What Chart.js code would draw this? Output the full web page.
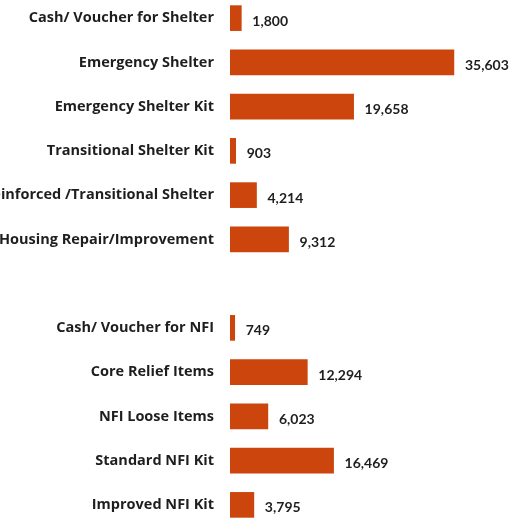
<!DOCTYPE html>
<html lang="en">
  <head>
    <meta charset="UTF-8" />
    <title>Shelter and NFI</title>
    <script src="https://cdn.jsdelivr.net/npm/chart.js"></script>
    <style>
      html, body { margin: 0; padding: 0; background: #fff; overflow: hidden; }
      #wrap { position: absolute; left: 0; top: -4px; width: 524px; height: 531px; }
    </style>
  </head>
  <body>
    <div id="wrap"><canvas id="shelterChart"></canvas></div>
    <script>
      const categories = [
        "Cash/ Voucher for Shelter",
        "Emergency Shelter",
        "Emergency Shelter Kit",
        "Transitional Shelter Kit",
        "Reinforced /Transitional Shelter",
        "Housing Repair/Improvement",
        "",
        "Cash/ Voucher for NFI",
        "Core Relief Items",
        "NFI Loose Items",
        "Standard NFI Kit",
        "Improved NFI Kit",
      ];
      const households = [1800, 35603, 19658, 903, 4214, 9312, null, 749, 12294, 6023, 16469, 3795];

      const barColor = "#cc450c";
      const textColor = "#1e1e1e";
      const labelFont = "'Open Sans', Lato, sans-serif";
      const valueFont = "Lato, 'Open Sans', sans-serif";

      // value labels to the right of each bar
      const valueLabels = {
        id: "valueLabels",
        afterDatasetsDraw(chart) {
          const ctx = chart.ctx;
          const meta = chart.getDatasetMeta(0);
          ctx.save();
          ctx.font = "bold 14px " + valueFont;
          ctx.fillStyle = textColor;
          ctx.textAlign = "left";
          ctx.textBaseline = "middle";
          meta.data.forEach((bar, i) => {
            const v = households[i];
            if (v == null) return;
            ctx.fillText(v.toLocaleString("en-US"), bar.x + 11, bar.y + 3);
          });
          ctx.restore();
        },
      };

      const ctx = document.getElementById("shelterChart").getContext("2d");
      new Chart(ctx, {
        type: "bar",
        data: {
          labels: categories,
          datasets: [
            {
              data: households,
              backgroundColor: barColor,
              borderWidth: 0,
              barThickness: 25,
            },
          ],
        },
        options: {
          indexAxis: "y",
          responsive: true,
          maintainAspectRatio: false,
          animation: false,
          layout: { padding: 0 },
          plugins: {
            legend: { display: false },
            tooltip: { enabled: false },
          },
          scales: {
            x: {
              display: false,
              min: 0,
              max: 46750,
            },
            y: {
              grid: { display: false, drawTicks: false },
              border: { display: false },
              ticks: {
                padding: 16,
                color: textColor,
                font: { family: labelFont, size: 14.5, weight: "bold" },
              },
              afterFit(scale) {
                scale.width = 230;
                scale.paddingTop = 0;
                scale.paddingBottom = 0;
              },
            },
          },
        },
        plugins: [valueLabels],
      });
    </script>
  </body>
</html>
